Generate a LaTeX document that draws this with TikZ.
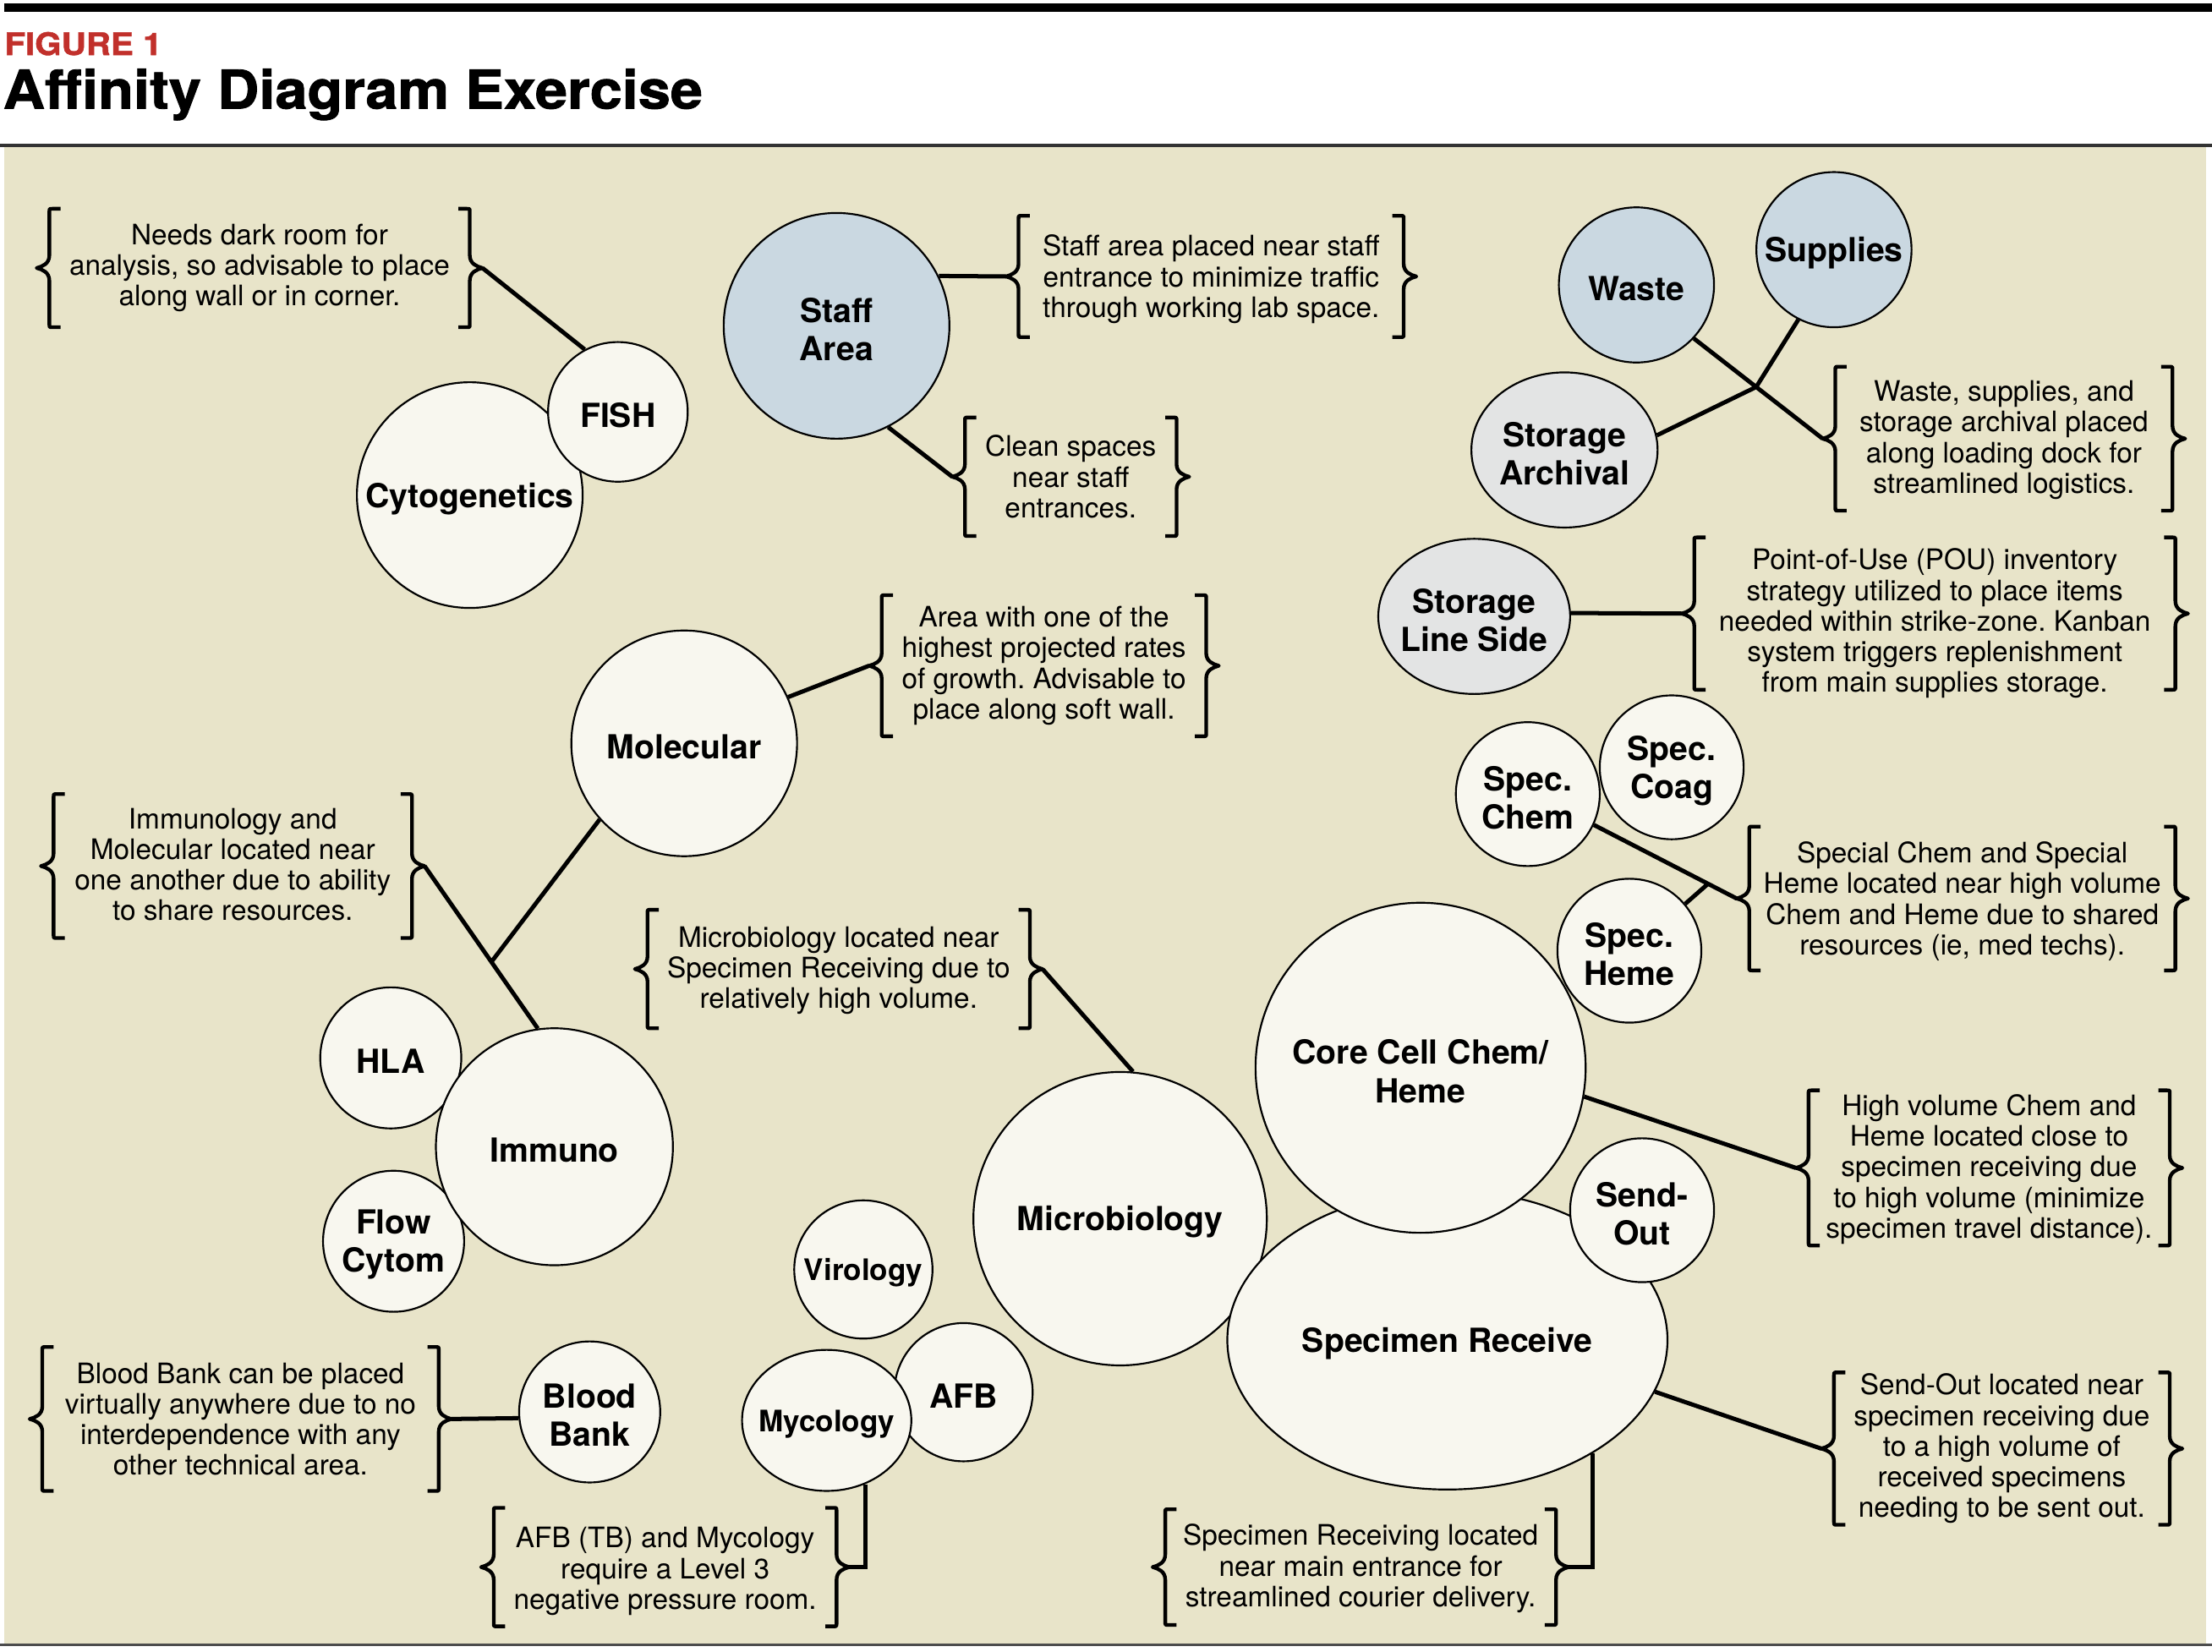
\documentclass[tikz,border=0pt]{standalone}
\usepackage{fontspec}
\setmainfont{TeX Gyre Heros}
\newfontfamily\heavyfont[BoldFeatures={FakeBold=1.3}]{TeX Gyre Heros}
\usetikzlibrary{shapes.geometric,calc}
\definecolor{bgbeige}{HTML}{E8E4C9}
\definecolor{cfill}{HTML}{F8F7EF}
\definecolor{cblue}{HTML}{CAD8E1}
\definecolor{cgray}{HTML}{E3E4E4}
\definecolor{figred}{HTML}{C1302B}

% #1 tip name, #2 x of vertical stroke, #3 y of middle, #4 half height, #5 1 = tip left, -1 = tip right
\newcommand{\mybrace}[5]{%
  \begin{scope}[shift={(#2,#3)}, xscale=#5]
    \draw[bracel] (8,-#4) -- (2,-#4) .. controls (0,-#4) .. (0,-#4+2) -- (0,-9)
      .. controls (0,-3) and (-5,-1) .. (-9,0)
      .. controls (-5,1) and (0,3) .. (0,9) -- (0,#4-2)
      .. controls (0,#4) .. (2,#4) -- (8,#4);
    \coordinate (#1) at (-9,0);
  \end{scope}}

% #1 name, #2 left tip x, #3 right tip x, #4 brace middle y, #5 half height, #6 text y, #7 text
\newcommand{\mynote}[7]{%
  \node[note] (#1) at ({(#2+#3)/2}, #6) {#7};
  \mybrace{#1-L}{#2+9}{#4}{#5}{1}
  \mybrace{#1-R}{#3-9}{#4}{#5}{-1}}

\begin{document}
\frenchspacing
\begin{tikzpicture}[x=1pt,y=-1pt,
  bub/.style={circle, draw=black, line width=1.3pt, fill=cfill, inner sep=0pt},
  ell/.style={ellipse, draw=black, line width=1.3pt, fill=cfill, inner sep=0pt},
  lab/.style={inner sep=0pt, align=center, yshift=-2.5pt,
              font=\fontsize{23.5}{27}\selectfont\bfseries},
  smlab/.style={lab, font=\fontsize{21}{24}\selectfont\bfseries},
  note/.style={inner sep=0pt, align=center, yshift=-2pt, font=\fontsize{20}{21.7}\selectfont\frenchspacing},
  conn/.style={line width=3pt},
  bracel/.style={line width=2.6pt, line join=round},
]
\useasboundingbox (0,0) rectangle (1568,1171.2);

% header
\fill[black] (3,2.5) rectangle (1568,8.5);
\node[anchor=base west, inner sep=0pt, text=figred, font=\fontsize{22}{22}\selectfont\heavyfont\bfseries] (fig) at (3,39) {\scalebox{1.1}[1]{FIGURE 1}};
\node[anchor=base west, inner sep=0pt, font=\fontsize{38}{38}\selectfont\heavyfont\bfseries] (title) at (2,77) {\scalebox{1.08}[1]{Affinity Diagram Exercise}};
\fill[bgbeige] (3,104) rectangle (1564,1165.5);
\draw[line width=2pt, black!80] (0,103) -- (1568,103);
\draw[line width=1.6pt, black!70] (0,1166) -- (1568,1166);

% bubbles
\node[bub, minimum size=160pt, label={[lab]center:{Cytogenetics}}] (cyto) at (333,351) {};
\node[bub, minimum size=99pt, label={[lab]center:{FISH}}] (fish) at (438,292) {};
\node[bub, minimum size=160pt, fill=cblue, label={[lab]center:{Staff\\Area}}] (staff) at (593,231) {};
\node[bub, minimum size=110pt, fill=cblue, label={[lab]center:{Waste}}] (waste) at (1160,202) {};
\node[bub, minimum size=110pt, fill=cblue, label={[lab]center:{Supplies}}] (sup) at (1300,177) {};
\node[ell, fill=cgray, minimum width=132pt, minimum height=110pt, label={[lab]center:{Storage\\Archival}}] (sa) at (1109,319) {};
\node[ell, fill=cgray, minimum width=136pt, minimum height=110pt, label={[lab]center:{Storage\\Line Side}}] (sls) at (1045,437) {};
\node[bub, minimum size=160pt, label={[lab]center:{Molecular}}] (mol) at (485,527) {};
\node[bub, minimum size=102pt, label={[lab]center:{Spec.\\Chem}}] (chem) at (1083,563) {};
\node[bub, minimum size=102pt, label={[lab]center:{Spec.\\Coag}}] (coag) at (1185,544) {};
\node[bub, minimum size=102pt, label={[lab]center:{Spec.\\Heme}}] (heme) at (1155,674) {};
\node[bub, minimum size=208pt, label={[lab]center:{Microbiology}}] (micro) at (794,864) {};
\node[ell, minimum width=312pt, minimum height=212pt, label={[lab]center:{Specimen Receive}}] (spr) at (1026,950) {};
\node[bub, minimum size=234pt, label={[lab]center:{Core Cell Chem/\\Heme}}] (core) at (1007,757) {};
\node[bub, minimum size=102pt, label={[lab]center:{Send-\\Out}}] (send) at (1164,858) {};
\node[bub, minimum size=100pt, label={[lab]center:{HLA}}] (hla) at (277,750) {};
\node[bub, minimum size=100pt, label={[lab]center:{Flow\\Cytom}}] (flow) at (279,880) {};
\node[bub, minimum size=168pt, label={[lab]center:{Immuno}}] (imm) at (393,813) {};
\node[bub, minimum size=98pt, label={[smlab]center:{Virology}}] (vir) at (612,900) {};
\node[bub, minimum size=98pt, label={[lab]center:{AFB}}] (afb) at (683,987) {};
\node[ell, minimum width=120pt, minimum height=100pt, label={[smlab]center:{Mycology}}] (myc) at (586,1007) {};
\node[bub, minimum size=100pt, label={[lab]center:{Blood\\Bank}}] (bb) at (418,1001) {};

% notes with braces
\mynote{A}{26}{342}{190}{42}{188}{Needs dark room for\\analysis, so advisable to place\\along wall or in corner.}
\mynote{B}{713}{1004}{196}{43}{196}{Staff area placed near staff\\entrance to minimize traffic\\through working lab space.}
\mynote{C}{675}{843}{338}{42}{336}{Clean spaces\\near staff\\entrances.}
\mynote{D}{1292}{1549}{311}{51}{310}{Waste, supplies, and\\storage archival placed\\along loading dock for\\streamlined logistics.}
\mynote{E}{1192}{1551}{435}{54}{440}{Point-of-Use (POU) inventory\\strategy utilized to place items\\needed within strike-zone. Kanban\\system triggers replenishment\\from main supplies storage.}
\mynote{F}{616}{864}{472}{50}{470}{Area with one of the\\highest projected rates\\of growth. Advisable to\\place along soft wall.}
\mynote{G}{29}{301}{614}{51}{611}{Immunology and\\Molecular located near\\one another due to ability\\to share resources.}
\mynote{H}{450}{739}{687}{42}{686}{Microbiology located near\\Specimen Receiving due to\\relatively high volume.}
\mynote{I}{1231}{1551}{637}{51}{637}{Special Chem and Special\\Heme located near high volume\\Chem and Heme due to shared\\resources (ie, med techs).}
\mynote{J}{1273}{1547}{828}{55}{827}{High volume Chem and\\Heme located close to\\specimen receiving due\\to high volume (minimize\\specimen travel distance).}
\mynote{K}{1291}{1547}{1027}{54}{1025}{Send-Out located near\\specimen receiving due\\to a high volume of\\received specimens\\needing to be sent out.}
\mynote{L}{817}{1112}{1111}{41}{1110}{Specimen Receiving located\\near main entrance for\\streamlined courier delivery.}
\mynote{M}{341}{602}{1111}{42}{1112}{AFB (TB) and Mycology\\require a Level 3\\negative pressure room.}
\mynote{N}{21}{320}{1006}{51}{1004}{Blood Bank can be placed\\virtually anywhere due to no\\interdependence with any\\other technical area.}

% connectors
\draw[conn] (A-R) -- (fish.118);
\draw[conn] (staff.26) -- (B-L);
\draw[conn] (staff.-63) -- (C-L);
\draw[conn] (waste.-43) -- (D-L);
\coordinate (jW) at ($(waste.-43)!0.484!(D-L)$);
\draw[conn] (sup.-117) -- (jW);
\draw[conn] (sa.9) -- (jW);
\draw[conn] (sls.2) -- (E-L);
\draw[conn] (mol.24) -- (F-L);
\draw[conn] (G-R) -- (imm.98);
\coordinate (jI) at ($(G-R)!0.59!(imm.98)$);
\draw[conn] (mol.222) -- (jI);
\draw[conn] (H-R) -- (micro.85);
\draw[conn] (chem.-25) -- (I-L);
\coordinate (jS) at ($(chem.-25)!0.8!(I-L)$);
\draw[conn] (heme.40) -- (jS);
\draw[conn] (core.-10) -- (J-L);
\draw[conn] (spr.-14) -- (K-L);
\draw[conn] (spr.-38) |- (L-R);
\draw[conn] (myc.-59) |- (M-R);
\draw[conn] (N-R) -- (bb.185);
\end{tikzpicture}
\end{document}
